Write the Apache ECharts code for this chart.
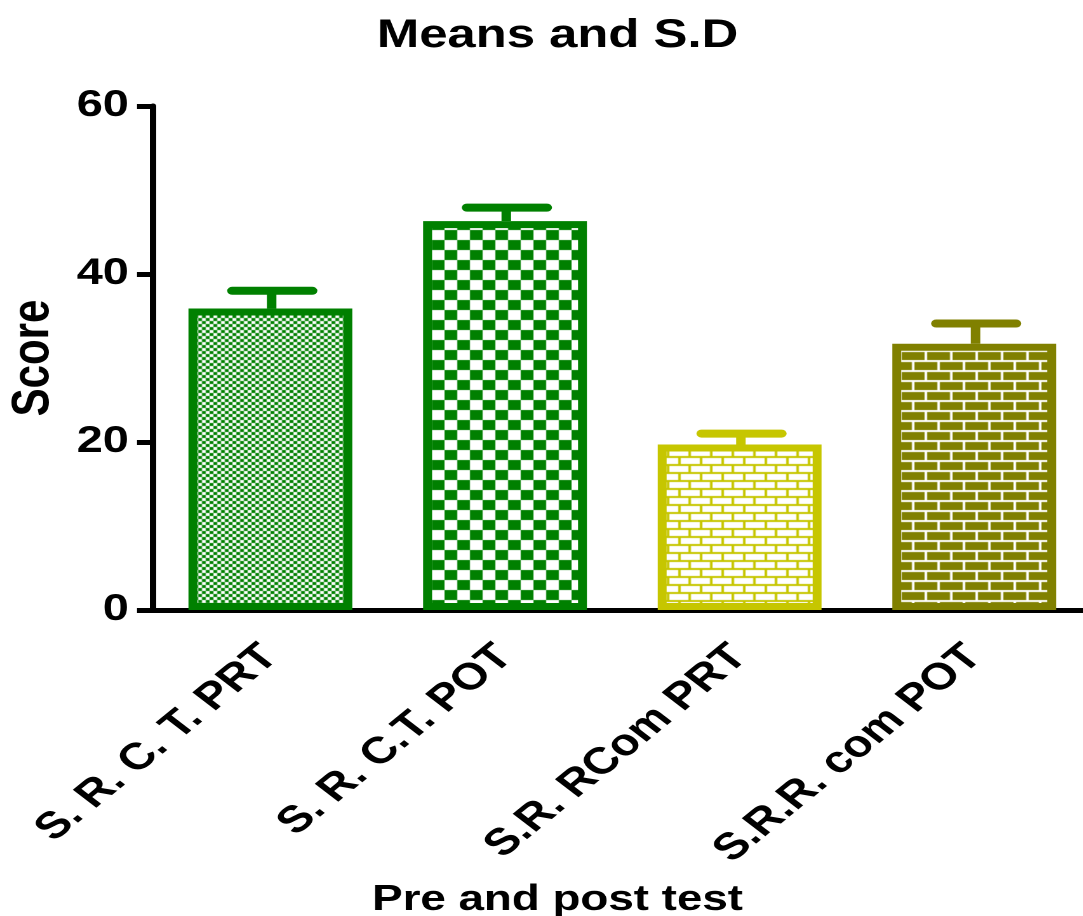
<!DOCTYPE html>
<html>
<head>
<meta charset="utf-8">
<script src="https://cdn.jsdelivr.net/npm/echarts@6/dist/echarts.min.js"></script>
<style>
html,body{margin:0;padding:0;background:#fff;overflow:hidden;}
#c{width:853px;height:916px;transform:scaleX(1.27);transform-origin:0 0;}
</style>
</head>
<body>
<div id="c"></div>
<script>
// ---- data ----
const categories = ['S. R. C. T. PRT', 'S. R. C.T. POT', 'S.R. RCom PRT', 'S.R.R. com POT'];
const means = [35.9, 46.3, 19.7, 31.7];
const sds = [2.1, 1.6, 1.3, 2.4];
const yMin = 0, yMax = 60, yStep = 20;
const titleText = 'Means and S.D';
const xTitle = 'Pre and post test';
const yTitle = 'Score';

// ---- styles ----
const GREEN = '#008000', YELLOW = '#c6c600', OLIVE = '#808000';
const FONT = 'Liberation Sans';

function checker(cell, color) {
  const c = document.createElement('canvas');
  c.width = cell * 2; c.height = cell * 2;
  const g = c.getContext('2d');
  g.fillStyle = '#fff'; g.fillRect(0, 0, c.width, c.height);
  g.fillStyle = color;
  g.fillRect(0, 0, cell, cell);
  g.fillRect(cell, cell, cell, cell);
  return c;
}
function bricks(w, rowH, mortar, brickColor, mortarColor) {
  const c = document.createElement('canvas');
  c.width = w; c.height = rowH * 2;
  const g = c.getContext('2d');
  g.fillStyle = mortarColor; g.fillRect(0, 0, c.width, c.height);
  g.fillStyle = brickColor;
  const bw = w - mortar, bh = rowH - mortar;
  g.fillRect(0, mortar, bw, bh);
  const off = Math.round(w / 2);
  g.fillRect(off, rowH + mortar, bw, bh);
  g.fillRect(off - w, rowH + mortar, bw, bh);
  return c;
}
const fills = [
  { image: checker(3, GREEN), repeat: 'repeat' },
  { image: checker(10, GREEN), repeat: 'repeat' },
  { image: bricks(17, 8, 2, '#fff', YELLOW), repeat: 'repeat' },
  { image: bricks(20, 10, 2, OLIVE, '#fff'), repeat: 'repeat' }
];
const borders = [GREEN, GREEN, YELLOW, OLIVE];

const chart = echarts.init(document.getElementById('c'), null, { width: 853, height: 916, devicePixelRatio: 2 });

chart.setOption({
  animation: false,
  backgroundColor: '#fff',
  title: [
    { text: titleText, left: 434, top: 11, textAlign: 'center',
      textStyle: { fontFamily: FONT, fontWeight: 'bold', fontSize: 40, color: '#000' } },
    { text: xTitle, left: 434, top: 877, textAlign: 'center',
      textStyle: { fontFamily: FONT, fontWeight: 'bold', fontSize: 36, color: '#000' } }
  ],
  grid: { left: 120.5, top: 106, width: 739, height: 504, outerBoundsMode: 'none' },
  xAxis: {
    type: 'category',
    data: categories,
    axisLine: { lineStyle: { color: '#000', width: 5 } },
    axisTick: { alignWithLabel: true, length: 15, lineStyle: { color: '#000', width: 5.5 } },
    axisLabel: { interval: 0, rotate: 46, margin: 41, color: '#000',
      fontFamily: FONT, fontWeight: 'bold', fontSize: 37.5 }
  },
  yAxis: {
    type: 'value', min: yMin, max: yMax, interval: yStep,
    name: yTitle, nameLocation: 'middle', nameGap: 73,
    nameTextStyle: { fontFamily: FONT, fontWeight: 'bold', fontSize: 42, color: '#000' },
    splitLine: { show: false },
    axisLine: { show: true, lineStyle: { color: '#000', width: 5 } },
    axisTick: { show: true, length: 12.6, lineStyle: { color: '#000', width: 5 } },
    axisLabel: { margin: 19, color: '#000', fontFamily: FONT, fontWeight: 'bold', fontSize: 37 }
  },
  series: [
    {
      type: 'bar',
      barWidth: 129,
      z: 3,
      data: means.map((m, i) => ({
        value: m,
        itemStyle: { color: fills[i], borderColor: borders[i], borderWidth: 7 }
      }))
    },
    {
      type: 'custom',
      z: 2,
      encode: { x: 0, y: 1 },
      data: means.map((m, i) => [i, m, sds[i]]),
      renderItem: function (params, api) {
        const i = api.value(0), m = api.value(1), s = api.value(2);
        const base = api.coord([i, m]);
        const top = api.coord([i, m + s]);
        const col = borders[i];
        return {
          type: 'group',
          children: [
            { type: 'line', shape: { x1: base[0] + 1, y1: base[1], x2: base[0] + 1, y2: top[1] },
              style: { stroke: col, lineWidth: 7.5 } },
            { type: 'line', shape: { x1: top[0] - 30, y1: top[1], x2: top[0] + 33, y2: top[1] },
              style: { stroke: col, lineWidth: 8, lineCap: 'round' } }
          ]
        };
      }
    }
  ]
});
</script>
</body>
</html>
